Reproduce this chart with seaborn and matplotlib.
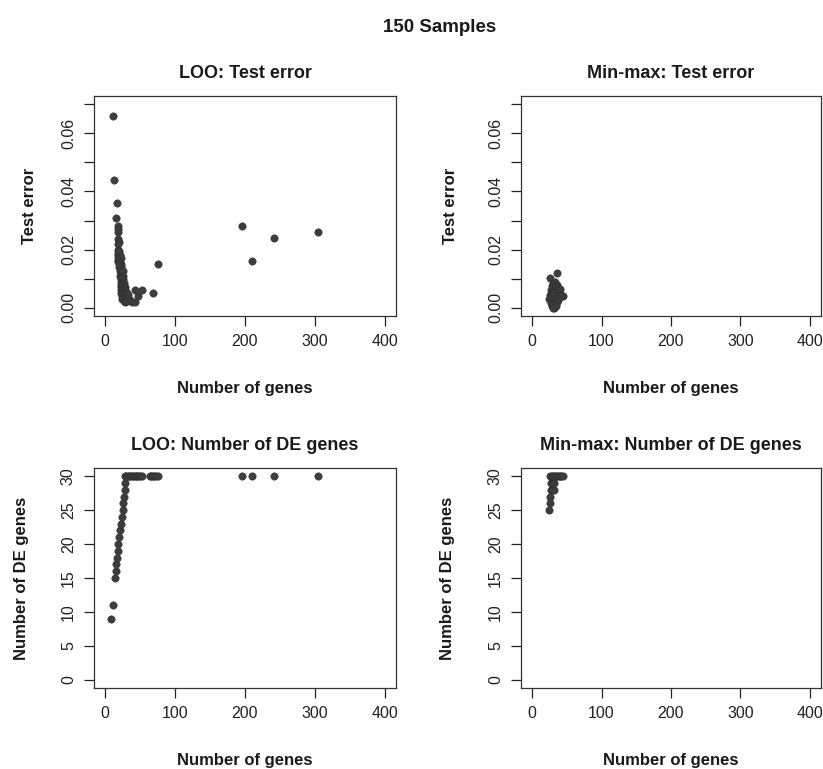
import numpy as np
import pandas as pd
import matplotlib
matplotlib.use('Agg')
import matplotlib.pyplot as plt
import seaborn as sns

# LOO: test error vs number of genes
loo_err_genes = [11, 12, 17, 16, 18, 18, 18, 19, 20, 19, 19, 20, 18,
                 18, 19, 20, 21, 19, 22,
                 19, 21, 22, 20, 23,
                 20, 22, 24, 21, 23, 25,
                 21, 23, 25, 26, 22,
                 22, 24, 26, 27, 23, 25,
                 22, 24, 26, 28, 23, 25, 27, 29,
                 23, 25, 27, 29, 31, 24, 26, 28, 30, 33,
                 24, 26, 28, 30, 32, 27, 29, 31, 35, 38,
                 195, 210, 241, 305, 75, 69, 53, 47, 43, 43]
loo_err_values = [0.066, 0.044, 0.036, 0.031, 0.028, 0.027, 0.026, 0.0235, 0.0225, 0.022, 0.018, 0.017, 0.016,
                  0.020, 0.019, 0.0195, 0.018, 0.017, 0.017,
                  0.016, 0.0155, 0.015, 0.015, 0.0145,
                  0.014, 0.0135, 0.013, 0.0125, 0.012, 0.0125,
                  0.011, 0.0105, 0.011, 0.010, 0.010,
                  0.009, 0.0095, 0.009, 0.0085, 0.008, 0.008,
                  0.007, 0.0075, 0.007, 0.0072, 0.006, 0.0065, 0.006, 0.0062,
                  0.005, 0.0055, 0.005, 0.0048, 0.0052, 0.004, 0.0045, 0.004, 0.0042, 0.0045,
                  0.003, 0.0032, 0.0028, 0.003, 0.0035, 0.0022, 0.002, 0.0024, 0.0028, 0.002,
                  0.028, 0.016, 0.024, 0.026, 0.015, 0.005, 0.006, 0.004, 0.006, 0.002]

# Min-max: test error vs number of genes
mm_err_genes = [26, 36, 30, 33, 36, 28, 31, 34, 37, 40, 27, 30, 33, 36, 39, 42, 45,
                26, 29, 32, 35, 38, 41, 25, 28, 31, 34, 37, 27, 30, 33, 36, 28, 31, 34, 30]
mm_err_values = [0.0102, 0.0119, 0.0085, 0.0088, 0.008, 0.0075, 0.007, 0.0072, 0.0068, 0.0065,
                 0.006, 0.0058, 0.006, 0.0055, 0.0058, 0.0045, 0.004,
                 0.0045, 0.0048, 0.005, 0.0045, 0.0042, 0.004, 0.003, 0.0035, 0.0032, 0.003, 0.0028,
                 0.0015, 0.0018, 0.0015, 0.002, 0.0005, 0.0, 0.0008, 0.0]

# LOO: number of DE genes vs number of genes
loo_de_genes = [8, 11, 14, 15, 16, 17, 18, 19, 20, 21, 23, 24, 25, 26, 27, 28, 28,
                28, 30, 32, 34, 36, 38, 40, 42, 44, 46, 48, 50, 52,
                64, 66, 68, 70, 72, 75, 195, 210, 241, 305]
loo_de_values = [9, 11, 15, 16, 17, 18, 19, 20, 21, 22, 23, 24, 25, 26, 27, 28, 29,
                 30, 30, 30, 30, 30, 30, 30, 30, 30, 30, 30, 30, 30,
                 30, 30, 30, 30, 30, 30, 30, 30, 30, 30]

# Min-max: number of DE genes vs number of genes
mm_de_genes = [24.5, 25.5, 26, 27, 29, 31, 27, 29, 31, 26, 28, 30, 32, 34, 36, 38, 40, 42, 44]
mm_de_values = [25, 26, 27, 28, 28, 28, 29, 29, 29, 30, 30, 30, 30, 30, 30, 30, 30, 30, 30]

gene_ticks = [0, 100, 200, 300, 400]
err_ticks = [0.00, 0.01, 0.02, 0.03, 0.04, 0.05, 0.06, 0.07]
err_tick_labels = ['0.00', '', '0.02', '', '0.04', '', '0.06', '']
de_ticks = [0, 5, 10, 15, 20, 25, 30]

sns.set_style('ticks')
plt.rcParams['font.family'] = ['Liberation Sans', 'DejaVu Sans']

fig = plt.figure(figsize=(8.23, 7.69), dpi=100)

# axes boxes placed like the R layout
left_x, right_x = 94 / 823, 521 / 823
top_y, bot_y = 1 - 316 / 769, 1 - 688 / 769
w_left, w_right = 302 / 823, 300 / 823
h = 220 / 769

panels = [
    (left_x, top_y, w_left, loo_err_genes, loo_err_values, 'LOO: Test error', 'Test error', 'err', -0.19),
    (right_x, top_y, w_right, mm_err_genes, mm_err_values, 'Min-max: Test error', 'Test error', 'err', -0.21),
    (left_x, bot_y, w_left, loo_de_genes, loo_de_values, 'LOO: Number of DE genes', 'Number of DE genes', 'de', -0.215),
    (right_x, bot_y, w_right, mm_de_genes, mm_de_values, 'Min-max: Number of DE genes', 'Number of DE genes', 'de', -0.22),
]

for x0, y0, w, gx, gy, title, ylab, kind, ylab_x in panels:
    ax = fig.add_axes([x0, y0, w, h])
    df = pd.DataFrame({'genes': gx, 'value': gy})
    sns.scatterplot(data=df, x='genes', y='value', ax=ax, s=28, color='#3d3d3d',
                    edgecolor='#2e2e2e', linewidth=0.4)

    ax.set_xlim(-16, 416)
    ax.set_xticks(gene_ticks)
    if kind == 'err':
        ax.set_ylim(-0.0028, 0.0728)
        ax.set_yticks(err_ticks)
        ax.set_yticklabels(err_tick_labels)
    else:
        ax.set_ylim(-1.2, 31.2)
        ax.set_yticks(de_ticks)

    ax.tick_params(axis='both', direction='out', length=7, width=0.9, labelsize=11.5,
                   colors='#222222', pad=6)
    ax.tick_params(axis='y', labelrotation=90)
    for lab in ax.get_yticklabels():
        lab.set_va('center')

    for sp in ax.spines.values():
        sp.set_visible(True)
        sp.set_linewidth(0.9)
        sp.set_color('#333333')

    ax.set_title(title, fontsize=13, fontweight='bold', pad=13, color='#1a1a1a')
    ax.set_xlabel('Number of genes', fontsize=12, fontweight='bold', color='#1a1a1a')
    ax.set_ylabel(ylab, fontsize=12, fontweight='bold', color='#1a1a1a')
    ax.xaxis.set_label_coords(0.5, -0.295)
    ax.yaxis.set_label_coords(ylab_x, 0.5)

fig.text(440 / 823, 1 - 27 / 769, '150 Samples', ha='center', va='center',
         fontsize=13.5, fontweight='bold', color='#1a1a1a')

plt.savefig('out.png', dpi=100)
